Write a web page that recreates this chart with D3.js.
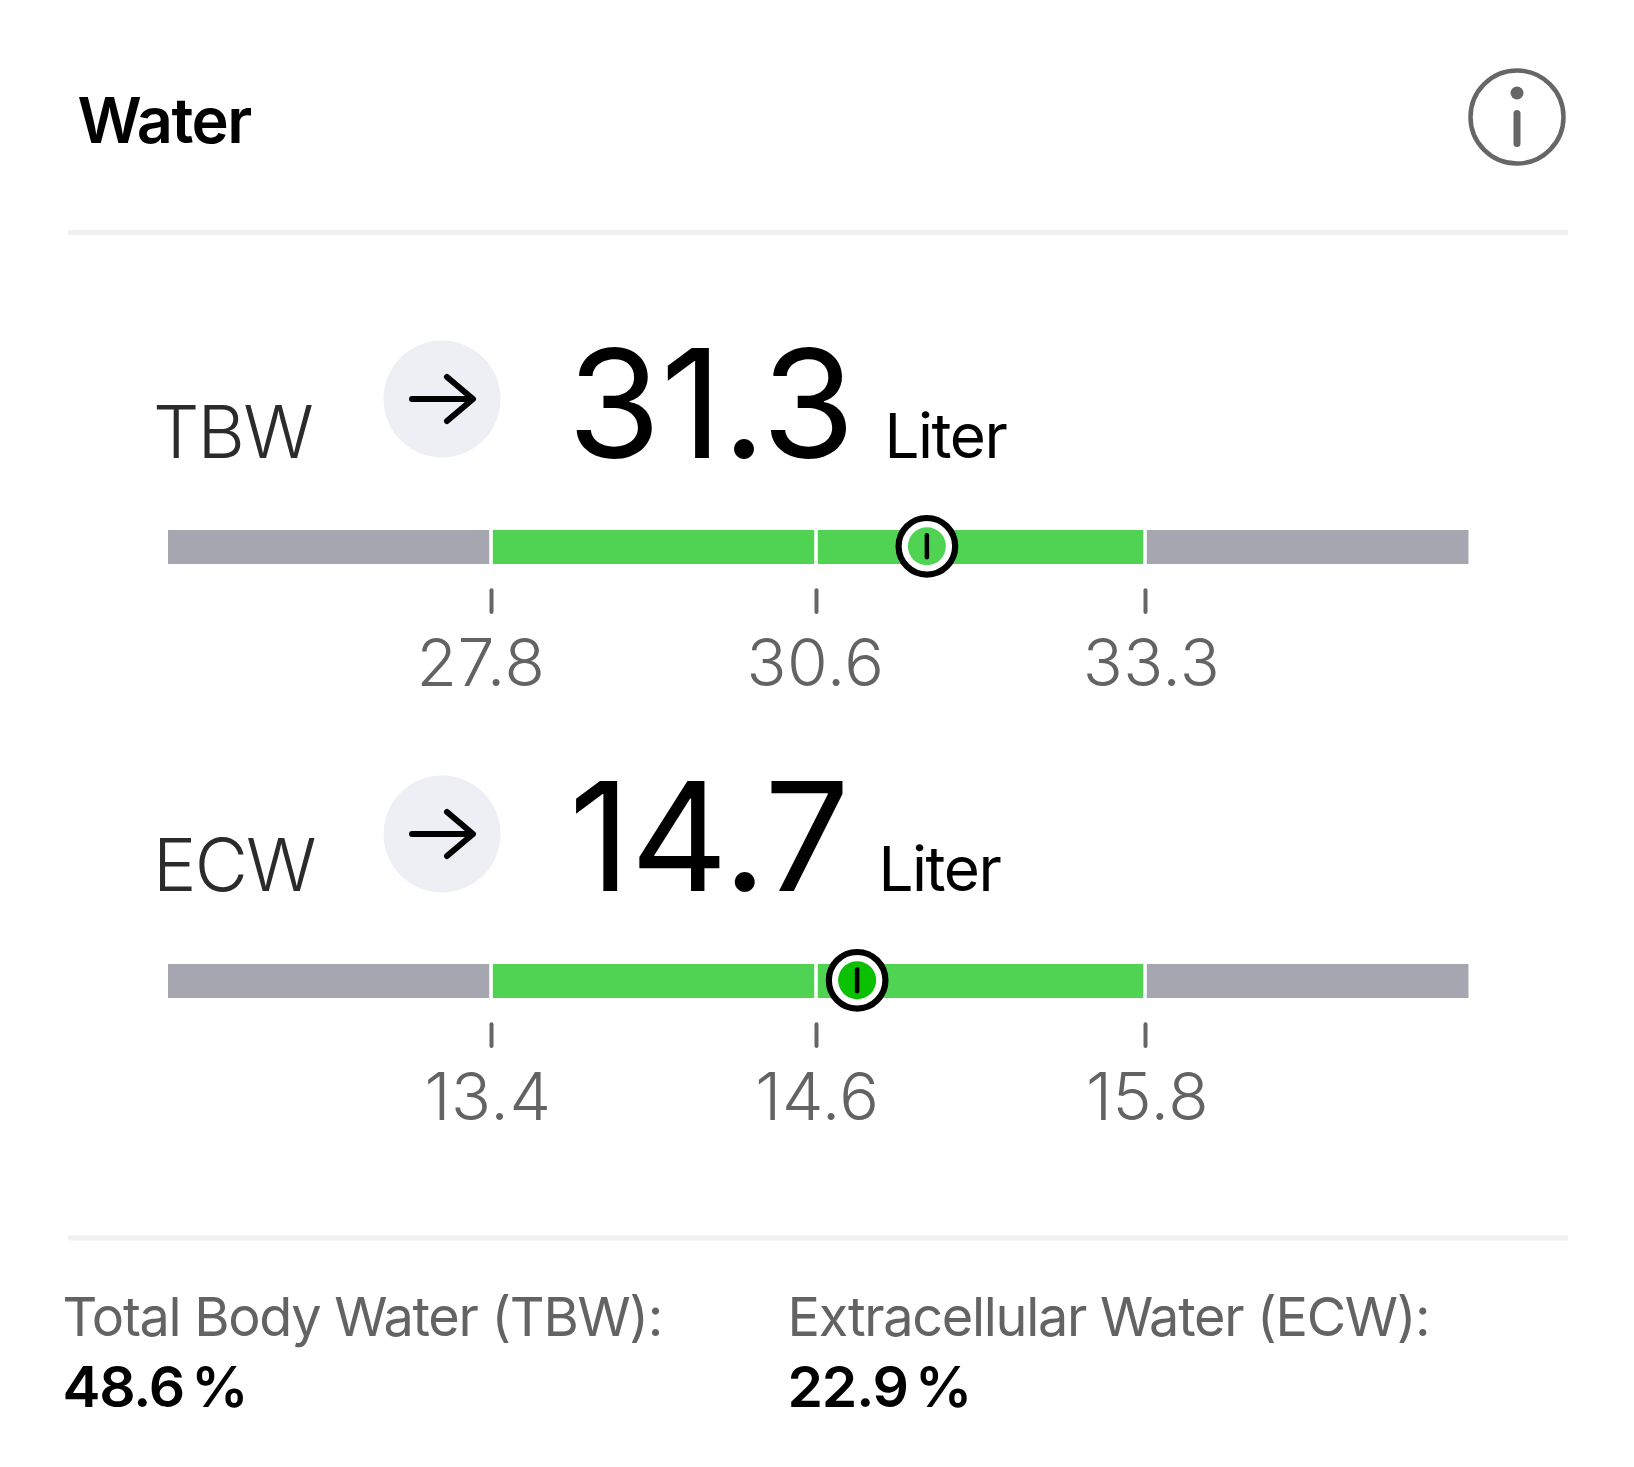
<!DOCTYPE html>
<html>
<head>
<meta charset="utf-8">
<script src="https://cdn.jsdelivr.net/npm/d3@7"></script>
<style>
  html, body { margin: 0; padding: 0; background: #fff; }
  text { font-family: Inter, "Noto Sans", sans-serif; }
</style>
</head>
<body>
<svg id="canvas"></svg>
<script>
const title = "Water"

const names = ["TBW", "ECW"]
const readings = ["31.3", "14.7"]
const unit = "Liter"

// scale stops: low end, three ticks, high end (ends are not labelled in the picture)
const tbwStops = [25.0, 27.8, 30.6, 33.3, 36.0]
const ecwStops = [12.2, 13.4, 14.6, 15.8, 17.0]
const tbwTicks = ["27.8", "30.6", "33.3"]
const ecwTicks = ["13.4", "14.6", "15.8"]
// where the marker sits on the bar
const markerValues = [31.51, 14.75]

const footLabels = ["Total Body Water (TBW):", "Extracellular Water (ECW):"]
const footValues = ["48.6 %", "22.9 %"]

const width = 1634
const height = 1467
const stopPixels = [168, 491, 816, 1145, 1468.5]
const segmentColors = ["#a6a6b0", "#50d353", "#50d353", "#a6a6b0"]
const markerColors = ["#50d353", "#0bc000"]
const gap = 3.6

const rows = [
    { top: 530, stops: tbwStops, ticks: tbwTicks, labelShift: [-10.5, -1, 6], circleY: 399, baseline: 457.5, numX: 567.5, unitX: 884.5 },
    { top: 964, stops: ecwStops, ticks: ecwTicks, labelShift: [-3.5, 1, 2], circleY: 834, baseline: 891, numX: 569, unitX: 878.5 }
]

let svg = d3.select("#canvas")
    .attr("width", width)
    .attr("height", height)
    .attr("viewBox", `0 0 ${width} ${height}`)
    .style("display", "block")

const addText = (x, y, str, size, weight, color, spacing) => {
    return svg.append("text")
        .attr("x", x)
        .attr("y", y)
        .attr("font-size", size)
        .attr("font-weight", weight)
        .attr("fill", color)
        .attr("letter-spacing", spacing)
        .text(str)
}

const drawHeader = () => {
    addText(77.5, 142.5, title, 63, 600, "#000", -1.5)

    svg.append("circle")
        .attr("cx", 1517).attr("cy", 117).attr("r", 46.5)
        .attr("fill", "none").attr("stroke", "#666").attr("stroke-width", 4.5)
    svg.append("circle")
        .attr("cx", 1517).attr("cy", 93).attr("r", 6.5)
        .attr("fill", "#666")
    svg.append("line")
        .attr("x1", 1517).attr("x2", 1517).attr("y1", 113.5).attr("y2", 143.5)
        .attr("stroke", "#666").attr("stroke-width", 7).attr("stroke-linecap", "round")

    svg.selectAll(".divider")
        .data([232.5, 1238])
        .enter()
        .append("rect")
        .attr("class", "divider")
        .attr("x", 68).attr("width", 1500)
        .attr("y", d => d - 2.5).attr("height", 5)
        .attr("fill", "#f0f0f0")
}

const drawRow = (row, i) => {
    const x = d3.scaleLinear().domain(row.stops).range(stopPixels)
    const segments = d3.pairs(row.stops)

    addText(153, row.baseline, names[i], 73, 350, "#2b2b2b", -1.8)

    svg.append("circle")
        .attr("cx", 442).attr("cy", row.circleY).attr("r", 58.5)
        .attr("fill", "#eeeff5")
    svg.append("path")
        .attr("d", `M412 ${row.circleY}H472M447 ${row.circleY - 22}L473 ${row.circleY}L447 ${row.circleY + 22}`)
        .attr("fill", "none").attr("stroke", "#000").attr("stroke-width", 6)
        .attr("stroke-linecap", "round").attr("stroke-linejoin", "round")

    addText(row.numX, row.baseline, readings[i], 151, 400, "#000", 0)
    addText(row.unitX, row.baseline, unit, 62, 400, "#000", -1.5)

    svg.selectAll(".seg" + i)
        .data(segments)
        .enter()
        .append("rect")
        .attr("class", "seg" + i)
        .attr("x", (d, j) => x(d[0]) + (j > 0 ? gap / 2 : 0))
        .attr("width", (d, j) => x(d[1]) - x(d[0]) - (j > 0 ? gap / 2 : 0) - (j < 3 ? gap / 2 : 0))
        .attr("y", row.top)
        .attr("height", 34)
        .attr("fill", (d, j) => segmentColors[j])

    // tick marks and labels
    const axis = d3.axisBottom(x)
        .tickValues(row.stops.slice(1, 4))
        .tickFormat((d, j) => row.ticks[j])
        .tickSize(21.7)
        .tickPadding(27.5)

    const g = svg.append("g")
        .attr("transform", `translate(0,${row.top + 60.3})`)
        .call(axis)
    g.select(".domain").remove()
    g.selectAll(".tick line")
        .attr("stroke", "#666").attr("stroke-width", 4).attr("stroke-linecap", "round")
    g.selectAll(".tick text")
        .attr("font-size", 66)
        .attr("font-family", "Inter")
        .attr("font-weight", 350)
        .attr("fill", "#636363")
        .attr("letter-spacing", 0.6)
        .attr("x", (d, j) => row.labelShift[j])

    // marker
    const mx = x(markerValues[i])
    const my = row.top + 16.3
    svg.append("circle")
        .attr("cx", mx).attr("cy", my).attr("r", 28.3)
        .attr("fill", "#fff").attr("stroke", "#000").attr("stroke-width", 6.2)
    svg.append("circle")
        .attr("cx", mx).attr("cy", my).attr("r", 19)
        .attr("fill", markerColors[i])
    svg.append("line")
        .attr("x1", mx).attr("x2", mx).attr("y1", my - 11).attr("y2", my + 11)
        .attr("stroke", "#000").attr("stroke-width", 4.5).attr("stroke-linecap", "round")
}

const drawFooter = () => {
    const xs = [62.5, 787.5]
    footLabels.forEach((d, i) => {
        addText(xs[i], 1336, d, 54, 400, "#636363", -1.3)
        addText(xs[i], 1407, footValues[i], 57, 600, "#000", -1.2)
            .attr("word-spacing", -6)
    })
}

drawHeader()
rows.forEach(drawRow)
drawFooter()
</script>
</body>
</html>
